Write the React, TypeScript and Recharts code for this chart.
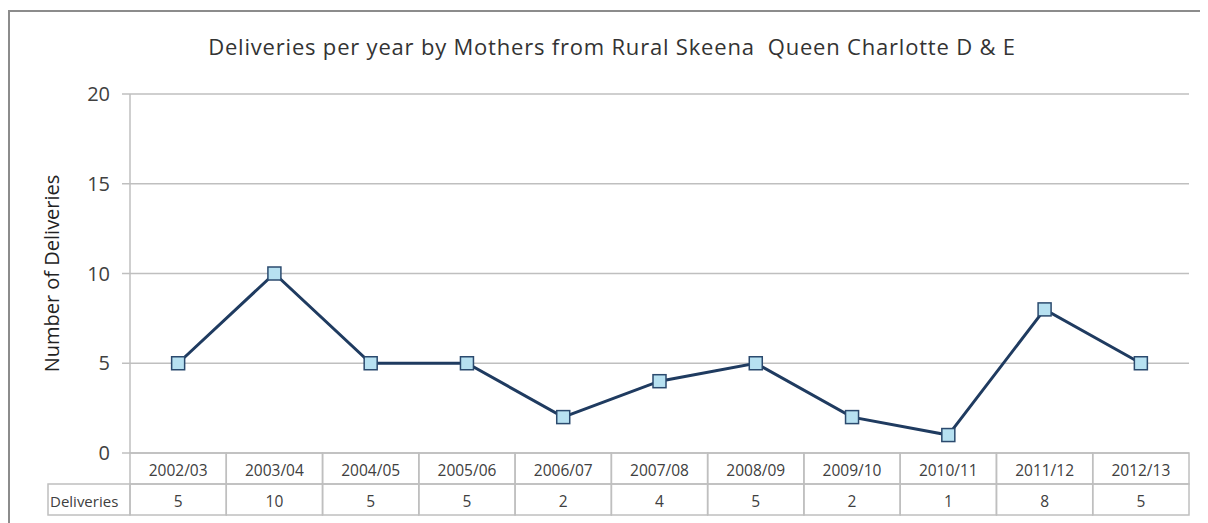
import React from 'react';
import { LineChart, Line, XAxis, YAxis, CartesianGrid, Label } from 'recharts';

const categories = [
    '2002/03', '2003/04', '2004/05', '2005/06', '2006/07', '2007/08',
    '2008/09', '2009/10', '2010/11', '2011/12', '2012/13',
];
const deliveries = [5, 10, 5, 5, 2, 4, 5, 2, 1, 8, 5];
const yTicks = [0, 5, 10, 15, 20];
const seriesName = 'Deliveries';
const chartTitle = 'Deliveries per year by Mothers from Rural Skeena  Queen Charlotte D & E';
const yTitle = 'Number of Deliveries';

const data = categories.map((year, i) => ({ year, deliveries: deliveries[i] }));

const FONT = '"Open Sans", Lato, sans-serif';
const CHART_W = 1198;
const CHART_H = 511;
const MARGIN = { top: 82, right: 19, left: 0, bottom: 8 };
const Y_AXIS_W = 120;
const PLOT_W = CHART_W - MARGIN.left - MARGIN.right - Y_AXIS_W;
const BAND = PLOT_W / categories.length;
const ROW_H = 31;
const HEADER_W = 82;
const GRID = '#bfbfbf';

// draws the data table under the plot, one column per category
const TableTick = (props: any) => {
    const { x, y, payload, index } = props;
    const left = x - BAND / 2;
    return (
        <g>
            <rect x={left} y={y} width={BAND} height={ROW_H} fill="none" stroke={GRID} strokeWidth={1.5} />
            <rect x={left} y={y + ROW_H} width={BAND} height={ROW_H} fill="none" stroke={GRID} strokeWidth={1.5} />
            <text x={x} y={y + ROW_H / 2 + 1} textAnchor="middle" dominantBaseline="central" fontSize={15.5} fill="#404040" fontFamily={FONT}>
                {payload.value}
            </text>
            <text x={x} y={y + ROW_H * 1.5 + 1} textAnchor="middle" dominantBaseline="central" fontSize={15.5} fill="#404040" fontFamily={FONT}>
                {deliveries[index]}
            </text>
            {index === 0 && (
                <g>
                    <rect x={left - HEADER_W} y={y + ROW_H} width={HEADER_W} height={ROW_H} fill="none" stroke={GRID} strokeWidth={1.5} />
                    <text x={left - HEADER_W + 2} y={y + ROW_H * 1.5 + 1} dominantBaseline="central" fontSize={15} fill="#404040" fontFamily={FONT}>
                        {seriesName}
                    </text>
                </g>
            )}
        </g>
    );
};

const SquareDot = (props: any) => {
    const { cx, cy } = props;
    if (cx == null || cy == null) return null;
    return <rect x={cx - 6.5} y={cy - 6.5} width={13} height={13} fill="#b7e1f1" stroke="#2b4a6e" strokeWidth={1.5} />;
};

export default function App() {
    return (
        <div style={{ position: 'relative', marginTop: 2, width: CHART_W, height: CHART_H, borderTop: '2px solid #8c8c8c', borderLeft: '2px solid #8c8c8c' }}>
            <div
                style={{
                    position: 'absolute',
                    top: 19,
                    left: 0,
                    width: 1204,
                    textAlign: 'center',
                    whiteSpace: 'pre',
                    fontFamily: FONT,
                    fontSize: 22,
                    letterSpacing: 0.8,
                    color: '#333',
                }}
            >
                {chartTitle}
            </div>
            <LineChart width={CHART_W} height={CHART_H} data={data} margin={MARGIN}>
                <CartesianGrid vertical={false} stroke={GRID} strokeWidth={1.5} />
                <XAxis
                    dataKey="year"
                    height={ROW_H * 2}
                    axisLine={false}
                    tickLine={false}
                    tickSize={0}
                    tickMargin={0}
                    interval={0}
                    padding={{ left: BAND / 2, right: BAND / 2 }}
                    tick={<TableTick />}
                />
                <YAxis
                    width={Y_AXIS_W}
                    domain={[0, 20]}
                    ticks={yTicks}
                    axisLine={{ stroke: GRID, strokeWidth: 1.5 }}
                    tickLine={{ stroke: GRID, strokeWidth: 1.5 }}
                    tickSize={8}
                    tickMargin={12}
                    tick={{ fill: '#404040', fontSize: 20, fontFamily: FONT }}
                >
                    <Label
                        value={yTitle}
                        angle={-90}
                        position="center"
                        dx={-18}
                        style={{ fill: '#222', fontSize: 20, fontFamily: FONT, textAnchor: 'middle' }}
                    />
                </YAxis>
                <Line
                    type="linear"
                    dataKey="deliveries"
                    stroke="#1f3b60"
                    strokeWidth={3}
                    dot={<SquareDot />}
                    activeDot={false}
                    isAnimationActive={false}
                />
            </LineChart>
        </div>
    );
}
